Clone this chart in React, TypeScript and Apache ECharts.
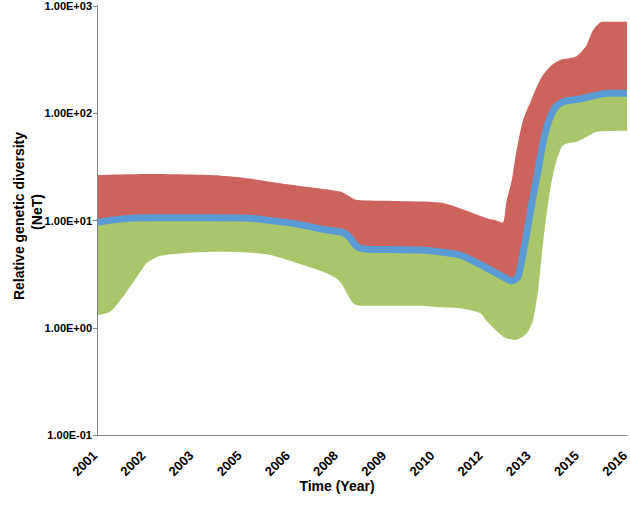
import React, { useEffect, useRef } from "react";
import * as echarts from "echarts";

// x values are decimal years
const upperYears = [2001.0, 2002.55, 2004.31, 2005.18, 2006.06, 2006.74, 2008.11, 2008.32, 2008.61, 2009.66, 2011.04, 2011.62, 2012.41, 2012.65, 2012.87, 2012.99, 2013.14, 2013.23, 2013.32, 2013.47, 2013.67, 2013.87, 2014.05, 2014.31, 2014.55, 2014.99, 2015.14, 2015.33, 2015.52, 2015.78, 2016.51];
const upperValues = [26.6, 27.2, 26.6, 25.3, 23.0, 21.4, 18.6, 17.3, 15.5, 15.2, 14.7, 13.0, 10.5, 10.1, 9.5, 15.5, 23.9, 36.7, 52.8, 86.5, 124.6, 177, 227, 282, 314, 334, 365, 433, 597, 714, 714];

const medianYears = [2001.0, 2001.67, 2002.55, 2004.31, 2005.48, 2006.06, 2006.74, 2007.73, 2008.2, 2008.4, 2008.61, 2008.9, 2009.87, 2010.45, 2011.04, 2011.62, 2012.21, 2012.41, 2012.79, 2013.14, 2013.32, 2013.47, 2013.61, 2013.76, 2013.91, 2014.05, 2014.2, 2014.4, 2014.64, 2015.14, 2015.52, 2015.93, 2016.51];
const medianValues = [9.6, 10.3, 10.6, 10.6, 10.5, 10.0, 9.4, 8.15, 7.7, 6.9, 5.7, 5.4, 5.35, 5.3, 5.1, 4.77, 3.9, 3.6, 3.1, 2.73, 2.99, 4.98, 8.75, 16.7, 29.6, 52.8, 81.1, 112, 128, 136, 145, 154, 154];

const lowerYears = [2001.0, 2001.38, 2001.76, 2002.17, 2002.46, 2002.84, 2003.72, 2004.69, 2005.48, 2006.06, 2006.74, 2007.73, 2008.11, 2008.49, 2008.7, 2010.45, 2011.04, 2011.62, 2012.21, 2012.41, 2012.88, 2013.23, 2013.58, 2013.76, 2013.91, 2014.01, 2014.11, 2014.26, 2014.4, 2014.6, 2014.78, 2015.04, 2015.33, 2015.62, 2016.51];
const lowerValues = [1.31, 1.41, 1.95, 2.99, 4.02, 4.67, 5.01, 5.1, 5.0, 4.77, 4.13, 3.22, 2.69, 1.7, 1.6, 1.6, 1.55, 1.52, 1.37, 1.15, 0.83, 0.77, 0.89, 1.18, 2.25, 4.6, 8.75, 19.2, 31.8, 48.8, 52.5, 54.3, 60.4, 67.3, 68.8];

const xTickLabels = ["2001", "2002", "2003", "2005", "2006", "2008", "2009", "2010", "2012", "2013", "2015", "2016"];
const yTickLabels = ["1.00E-01", "1.00E+00", "1.00E+01", "1.00E+02", "1.00E+03"];

const START_YEAR = 2001;
const X_STEP = 1.41;

const toPairs = (xs: number[], ys: number[]) => xs.map((x, i) => [+(x - START_YEAR).toFixed(3), ys[i]]);

const FONT = "'Liberation Sans', Arial, sans-serif";

export default function App() {
  const ref = useRef<HTMLDivElement>(null);
  useEffect(() => {
    if (!ref.current) return;
    const chart = echarts.init(ref.current, null, { renderer: "svg" });
    const axisColor = "#868686";
    const smooth = 0.25;
    chart.setOption({
      animation: false,
      backgroundColor: "#ffffff",
      grid: { left: 97, right: 3, top: 6, bottom: 70, containLabel: false, outerBoundsMode: "none" },
      xAxis: {
        type: "value",
        min: 0,
        max: X_STEP * (xTickLabels.length - 1),
        interval: X_STEP,
        z: 10,
        axisLine: { show: true, lineStyle: { color: axisColor, width: 1 } },
        axisTick: { show: false },
        splitLine: { show: false },
        axisLabel: {
          rotate: 45,
          margin: 16,
          padding: [0, 3, 0, 0],
          fontFamily: FONT,
          fontWeight: "bold",
          fontSize: 13,
          color: "#000",
          showMaxLabel: true,
          showMinLabel: true,
          hideOverlap: false,
          formatter: (v: number) => xTickLabels[Math.round(v / X_STEP)] ?? "",
        },
      },
      yAxis: {
        type: "log",
        logBase: 10,
        min: 0.1,
        max: 1000,
        z: 10,
        axisLine: { show: true, lineStyle: { color: axisColor, width: 1 } },
        axisTick: { show: true, inside: false, length: 4, lineStyle: { color: axisColor } },
        splitLine: { show: false },
        minorTick: { show: false },
        axisLabel: {
          margin: 5,
          fontFamily: FONT,
          fontWeight: "bold",
          fontSize: 11,
          color: "#000",
          formatter: (v: number) => yTickLabels[Math.round(Math.log10(v)) + 1] ?? "",
        },
      },
      graphic: [
        {
          type: "text",
          x: 19,
          y: 216,
          rotation: Math.PI / 2,
          style: {
            text: "Relative genetic diversity",
            fontFamily: FONT,
            fontWeight: "bold",
            fontSize: 14,
            fill: "#000",
            textAlign: "center",
            textVerticalAlign: "middle",
          },
        },
        {
          type: "text",
          x: 37,
          y: 212,
          rotation: Math.PI / 2,
          style: {
            text: "(NeT)",
            fontFamily: FONT,
            fontWeight: "bold",
            fontSize: 14,
            fill: "#000",
            textAlign: "center",
            textVerticalAlign: "middle",
          },
        },
        {
          type: "text",
          x: 337,
          y: 486,
          style: {
            text: "Time (Year)",
            fontFamily: FONT,
            fontWeight: "bold",
            fontSize: 14,
            fill: "#000",
            textAlign: "center",
            textVerticalAlign: "middle",
          },
        },
      ],
      series: [
        {
          name: "Upper 95% HPD",
          type: "line",
          data: toPairs(upperYears, upperValues),
          smooth,
          symbol: "none",
          z: 2,
          lineStyle: { width: 0, color: "#CC645D" },
          areaStyle: { color: "#CC645D", opacity: 1, origin: "start" },
        },
        {
          name: "Median fill",
          type: "line",
          data: toPairs(medianYears, medianValues),
          smooth,
          symbol: "none",
          z: 3,
          lineStyle: { width: 0, color: "#A9C66B" },
          areaStyle: { color: "#A9C66B", opacity: 1, origin: "start" },
        },
        {
          name: "Lower 95% HPD",
          type: "line",
          data: toPairs(lowerYears, lowerValues),
          smooth,
          symbol: "none",
          z: 4,
          lineStyle: { width: 0, color: "#ffffff" },
          areaStyle: { color: "#ffffff", opacity: 1, origin: "start" },
        },
        {
          name: "Median",
          type: "line",
          data: toPairs(medianYears, medianValues),
          smooth,
          symbol: "none",
          z: 5,
          lineStyle: { width: 7, color: "#5B9BD5" },
        },
      ],
    });
    return () => chart.dispose();
  }, []);
  return <div ref={ref} style={{ position: "fixed", left: 0, top: 0, width: 630, height: 505 }} />;
}
